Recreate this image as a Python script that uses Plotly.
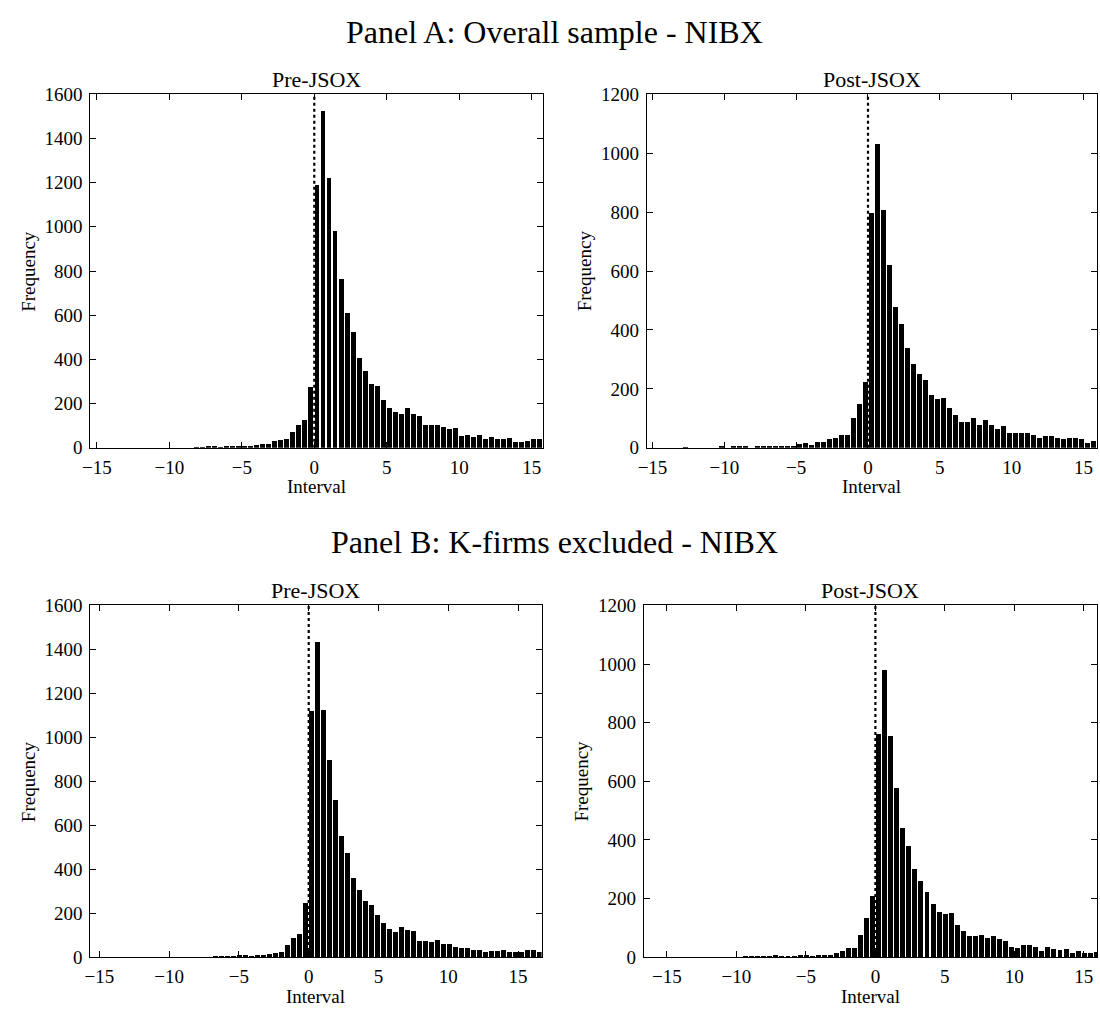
import plotly.graph_objects as go

# ---------------- data ----------------
# each histogram: bin width, index of first bin (edges aligned on 0), counts
a_pre_width = 0.415
a_pre_first = -37
a_pre_counts = [0, 0, 0, 0, 0, 0, 0, 0, 0, 0, 0, 0, 0, 0, 0, 0, 0,
                1, 2, 3, 3, 2, 6, 6, 9, 9, 9, 13, 16, 16, 28, 35, 37, 70, 103, 127, 274,
                1186, 1521, 1221, 978, 765, 611, 525, 406, 348, 286, 280, 215, 178, 160,
                150, 181, 150, 145, 100, 100, 103, 95, 82, 90, 52, 58, 48, 58, 40, 46,
                37, 37, 44, 26, 26, 30, 38, 38]

a_post_width = 0.418
a_post_first = -37
a_post_counts = [0, 0, 0, 0, 0, 0, 1, 0, 0, 0, 0, 0, 4, 0, 3, 3, 4, 0, 2,
                 7, 3, 4, 7, 7, 7, 12, 14, 10, 18, 18, 29, 31, 42, 44, 100, 147, 222,
                 797, 1029, 808, 620, 478, 420, 338, 285, 250, 228, 180, 164, 169, 134,
                 110, 88, 88, 99, 75, 94, 75, 62, 72, 48, 48, 48, 48, 42, 31, 40, 40,
                 31, 28, 34, 33, 28, 17, 22, 22]

b_pre_width = 0.431
b_pre_first = -37
b_pre_counts = [0, 0, 0, 0, 0, 0, 0, 0, 0, 0, 0, 0, 0, 0, 0, 0, 0, 0, 0, 0, 0,
                1, 2, 2, 2, 5, 3, 2, 7, 7, 12, 16, 19, 55, 85, 105, 242,
                1116, 1433, 1121, 895, 713, 549, 470, 358, 303, 255, 233, 190, 153, 124,
                112, 137, 119, 115, 71, 71, 65, 75, 57, 57, 46, 41, 38, 31, 31, 19, 27,
                27, 31, 19, 19, 19, 28, 28, 19]

b_post_width = 0.435
b_post_first = -39
b_post_counts = [0, 0, 0, 0, 0, 0, 0, 0, 0, 0, 0, 0, 0, 0, 0, 0, 0,
                 1, 2, 2, 2, 2, 6, 2, 2, 2, 3, 3, 2, 4, 5, 6, 14, 20, 28, 28, 73, 131, 206,
                 761, 978, 753, 574, 438, 379, 300, 259, 219, 178, 153, 145, 148, 108, 86,
                 71, 71, 75, 62, 70, 59, 53, 34, 31, 40, 40, 34, 20, 34, 27, 23, 25, 14,
                 20, 12, 14, 15]

x_ranges = [[-15.45, 15.75], [-15.4, 15.94], [-15.65, 16.69], [-16.67, 15.95]]
y_max = [1600, 1200, 1600, 1200]
x_ticks = [-15, -10, -5, 0, 5, 10, 15]
sub_titles = ["Pre-JSOX", "Post-JSOX", "Pre-JSOX", "Post-JSOX"]
panel_titles = ["Panel A: Overall sample - NIBX", "Panel B: K-firms excluded - NIBX"]

# ---------------- layout geometry ----------------
W, H = 1100, 1021
boxes = [(82, 538, 86, 447), (643, 1097, 86, 447), (82, 537, 608, 967), (640, 1097, 608, 967)]

FONT = "Liberation Serif"
fig = go.Figure()

hists = [(a_pre_width, a_pre_first, a_pre_counts), (a_post_width, a_post_first, a_post_counts),
         (b_pre_width, b_pre_first, b_pre_counts), (b_post_width, b_post_first, b_post_counts)]

for i, (w, first, counts) in enumerate(hists):
    n = i + 1
    sx = "" if n == 1 else str(n)
    centers = [(first + k + 0.5) * w for k in range(len(counts))]
    fig.add_trace(go.Bar(x=centers, y=counts, width=w * 0.82,
                         marker=dict(color="black", line=dict(width=0)),
                         xaxis="x" + sx, yaxis="y" + sx, showlegend=False))
    x0, x1, yt, yb = boxes[i]
    ax = dict(domain=[x0 / W, x1 / W], range=x_ranges[i], tickvals=x_ticks,
              ticks="inside", ticklen=6, tickwidth=1, tickcolor="black",
              showline=True, linecolor="black", linewidth=1, mirror="allticks",
              showgrid=False, zeroline=False, anchor="y" + sx,
              tickfont=dict(family=FONT, size=19, color="black"), ticklabelstandoff=2)
    ay = dict(domain=[1 - yb / H, 1 - yt / H], range=[0, y_max[i]],
              tickvals=list(range(0, y_max[i] + 1, 200)),
              ticks="inside", ticklen=6, tickwidth=1, tickcolor="black",
              showline=True, linecolor="black", linewidth=1, mirror="allticks",
              showgrid=False, zeroline=False, anchor="x" + sx,
              tickfont=dict(family=FONT, size=19, color="black"), ticklabelstandoff=3)
    fig.update_layout(**{"xaxis" + sx: ax, "yaxis" + sx: ay})
    # dotted line at zero
    fig.add_shape(type="line", xref="x" + sx, yref="y" + sx + " domain",
                  x0=0, x1=0, y0=0, y1=1, line=dict(color="black", width=2.2, dash="dot"))
    # subplot title
    fig.add_annotation(text=sub_titles[i], xref="paper", yref="paper",
                       x=(x0 + x1) / 2 / W, y=1 - yt / H, xanchor="center", yanchor="bottom",
                       yshift=0, showarrow=False, font=dict(family=FONT, size=22, color="black"))
    # axis labels
    fig.add_annotation(text="Frequency", xref="paper", yref="paper",
                       x=(x0 - 63) / W, y=1 - (yt + yb) / 2 / H, textangle=-90,
                       xanchor="center", yanchor="middle", showarrow=False,
                       font=dict(family=FONT, size=19, color="black"))
    fig.add_annotation(text="Interval", xref="paper", yref="paper",
                       x=(x0 + x1) / 2 / W, y=1 - (yb + 40) / H,
                       xanchor="center", yanchor="middle", showarrow=False,
                       font=dict(family=FONT, size=19, color="black"))

for t, yc in zip(panel_titles, [22, 543]):
    fig.add_annotation(text=t, xref="paper", yref="paper", x=0.5, y=1 - yc / H,
                       xanchor="center", yanchor="middle", showarrow=False,
                       font=dict(family=FONT, size=32, color="black"))

fig.update_layout(width=W, height=H, margin=dict(l=0, r=0, t=0, b=0),
                  paper_bgcolor="white", plot_bgcolor="white", bargap=0)
fig.write_html("out.html", config={"displayModeBar": False},
               post_script="document.body.style.margin='0px';document.body.style.overflow='hidden';")
